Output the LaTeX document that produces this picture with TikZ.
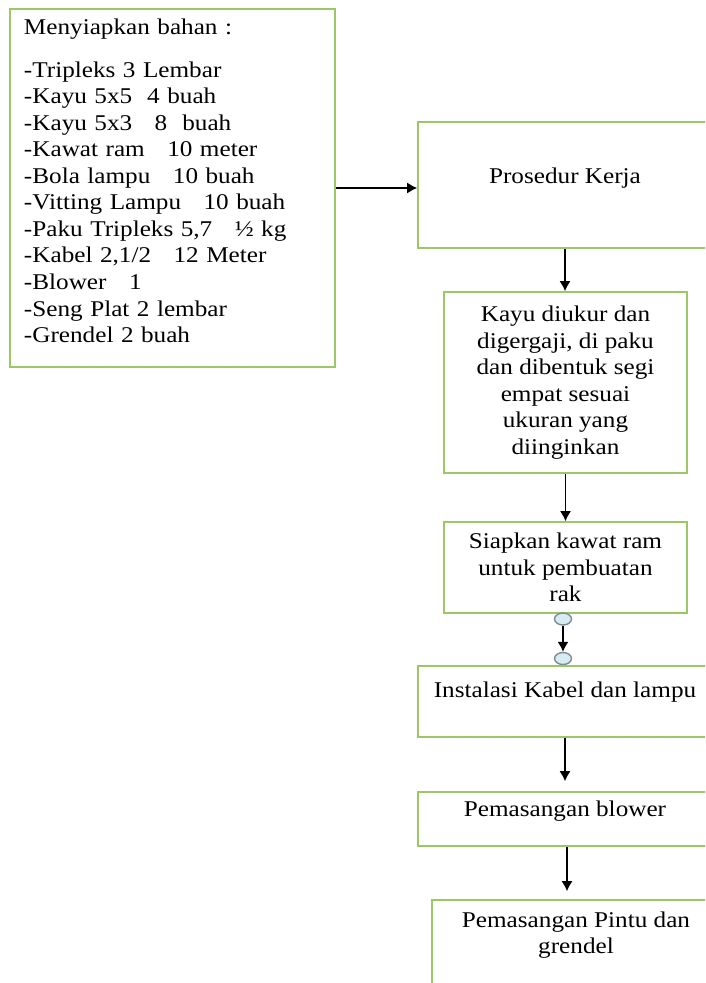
\documentclass[tikz,border=0pt]{standalone}
\usepackage{fontspec}
\setmainfont[FakeStretch=1.12]{Liberation Serif}
\usetikzlibrary{arrows.meta,shapes.geometric}

\definecolor{boxgreen}{RGB}{155,199,100}
\definecolor{dotblue}{RGB}{214,236,242}
\definecolor{dotgray}{RGB}{128,140,145}

\tikzset{
  box/.style={draw=boxgreen, line width=0.9pt, fill=white, inner sep=0pt},
  flow/.style={-{Latex[length=2mm,width=2.2mm]}, line width=0.8pt},
  joint/.style={ellipse, draw=dotgray, fill=dotblue, line width=0.8pt, minimum width=0.34cm, minimum height=0.24cm, inner sep=0pt},
  every node/.style={font=\fontsize{12.8}{15.1}\selectfont}
}

\begin{document}
\begin{tikzpicture}

   \useasboundingbox (0,0) rectangle (14.1,-19.66);
   \clip (0,0) rectangle (14.1,-19.66);

   \node (bahan) at (3.45,-3.76) [box, minimum width=6.5cm, minimum height=7.16cm, inner xsep=0.28cm, text width=5.94cm, align=left]
     {Menyiapkan bahan :\\[9pt]
      -Tripleks 3 Lembar\\
      -Kayu 5x5~ 4 buah\\
      -Kayu 5x3~~ 8~ buah\\
      -Kawat ram~~ 10 meter\\
      -Bola lampu~~ 10 buah\\
      -Vitting Lampu~~ 10 buah\\
      -Paku Tripleks 5,7~~ ½ kg\\
      -Kabel 2,1/2~~ 12 Meter\\
      -Blower~~ 1\\
      -Seng Plat 2 lembar\\
      -Grendel 2 buah\\[-7pt]\mbox{}};

   \node (prosedur) at (11.3,-3.70) [box, minimum width=5.88cm, minimum height=2.52cm] {};
   \node (prosedurtxt) at (11.3,-3.56) [] {Prosedur Kerja};

   \node (kayu) at (11.31,-7.65) [box, minimum width=4.86cm, minimum height=3.62cm, align=center]
     {Kayu diukur dan\\ digergaji, di paku\\ dan dibentuk segi\\ empat sesuai\\ ukuran yang\\ diinginkan};

   \node (siapkan) at (11.31,-11.35) [box, minimum width=4.86cm, minimum height=1.82cm, align=center]
     {Siapkan kawat ram\\ untuk pembuatan\\ rak};

   \node (instalasi) at (11.3,-14.03) [box, minimum width=5.88cm, minimum height=1.42cm] {};
   \node (instalasitxt) at (11.3,-13.84) [] {Instalasi Kabel dan lampu};

   \node (blower) at (11.3,-16.38) [box, minimum width=5.88cm, minimum height=1.08cm] {};
   \node (blowertxt) at (11.3,-16.22) [] {Pemasangan blower};

   \node (pintu) at (11.52,-19.1) [box, minimum width=5.76cm, minimum height=2.2cm] {};
   \node (pintutxt) at (11.52,-18.7) [align=center] {Pemasangan Pintu dan\\ grendel};

   \node (jointA) at (11.26,-12.38) [joint] {};
   \node (jointB) at (11.26,-13.17) [joint] {};

   \draw [flow] (bahan.east) -- (bahan.east -| prosedur.west);
   \draw [flow] (prosedur.south) -- (prosedur.south |- kayu.north);
   \draw [flow] (kayu.south) -- (kayu.south |- siapkan.north);
   \draw [flow] (jointA.south) -- (jointB.north);
   \draw [flow, shorten >=0.2cm] (instalasi.south) -- (instalasi.south |- blower.north);
   \draw [flow, shorten >=0.16cm] ([xshift=0.04cm]blower.south) -- ([xshift=0.04cm]blower.south |- pintu.north);

\end{tikzpicture}
\end{document}
